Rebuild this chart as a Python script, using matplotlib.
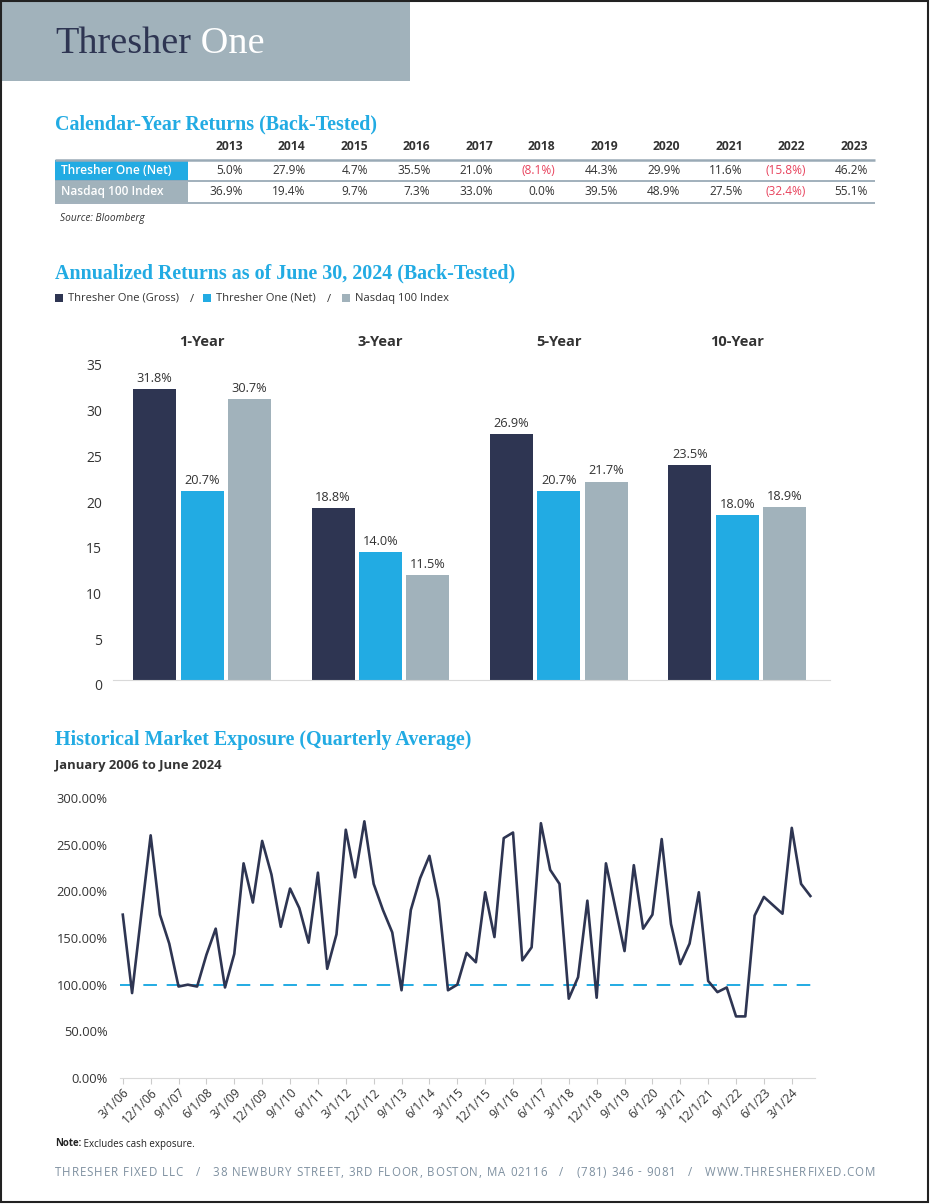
import matplotlib
matplotlib.use("Agg")
import matplotlib.pyplot as plt
from matplotlib.patches import Rectangle
from matplotlib.transforms import offset_copy
import numpy as np

plt.rcParams['font.family'] = ['Open Sans', 'DejaVu Sans']

NAVY = '#2e3552'
BLUE = '#22abe3'
GRAY = '#a1b2bb'
RED = '#e8435d'
TXT = '#333333'
SERIF = 'Liberation Serif'

# calendar-year table
years = [2013, 2014, 2015, 2016, 2017, 2018, 2019, 2020, 2021, 2022, 2023]
net_returns = [5.0, 27.9, 4.7, 35.5, 21.0, -8.1, 44.3, 29.9, 11.6, -15.8, 46.2]
ndx_returns = [36.9, 19.4, 9.7, 7.3, 33.0, 0.0, 39.5, 48.9, 27.5, -32.4, 55.1]

# annualized returns
periods = ['1-Year', '3-Year', '5-Year', '10-Year']
gross_ann = [31.8, 18.8, 26.9, 23.5]
net_ann = [20.7, 14.0, 20.7, 18.0]
ndx_ann = [30.7, 11.5, 21.7, 18.9]

# quarterly market exposure (%)
exposure = [175, 91, 176, 260, 175, 144, 98, 100, 98, 132,
            160, 97, 133, 230, 188, 254, 218, 162, 203, 182,
            145, 220, 117, 154, 266, 215, 275, 208, 180, 156,
            94, 180, 214, 238, 190, 94, 100, 134, 124, 199,
            151, 257, 263, 126, 140, 273, 223, 208, 85, 108,
            190, 86, 230, 183, 136, 228, 160, 175, 256, 165,
            122, 144, 199, 104, 92, 97, 66, 66, 174, 194,
            185, 176, 268, 208, 195]
date_labels = ['3/1/06', '12/1/06', '9/1/07', '6/1/08', '3/1/09', '12/1/09',
               '9/1/10', '6/1/11', '3/1/12', '12/1/12', '9/1/13', '6/1/14',
               '3/1/15', '12/1/15', '9/1/16', '6/1/17', '3/1/18', '12/1/18',
               '9/1/19', '6/1/20', '3/1/21', '12/1/21', '9/1/22', '6/1/23',
               '3/1/24']


def fmt_pct(v):
    if v < 0:
        return '({:.1f}%)'.format(-v)
    return '{:.1f}%'.format(v)


W, H = 930, 1204
fig = plt.figure(figsize=(W / 100, H / 100), dpi=100)
renderer = fig.canvas.get_renderer()

# page layer in pixel coordinates
bg = fig.add_axes([0, 0, 1, 1])
bg.set_xlim(0, W)
bg.set_ylim(H, 0)
bg.axis('off')


def tracked_text(x0, x1, y, s, **kw):
    # spread characters of s evenly between x0 and x1 (letter spacing)
    def width(txt):
        t = bg.text(0, 0, txt, **kw)
        w = t.get_window_extent(renderer).width
        t.remove()
        return w
    base = width('HH')
    widths = [width('H' + c + 'H') - base for c in s]
    track = (x1 - x0 - sum(widths)) / (len(s) - 1)
    x = x0
    for c, w in zip(s, widths):
        if c != ' ':
            bg.text(x, y, c, va='center', **kw)
        x += w + track


bg.add_patch(Rectangle((0, 0), 410, 81, color=GRAY, lw=0))
bg.add_patch(Rectangle((1, 1), W - 3, H - 3, fill=False, ec='#222222', lw=1.5))
t = bg.text(55, 44, 'Thresher', family=SERIF, fontsize=27.5, color=NAVY, va='center')
bg.annotate(' One', xycoords=t, xy=(1, 0), va='bottom', family=SERIF,
            fontsize=27.5, color='white')

# --- table ---
bg.text(55, 124, 'Calendar-Year Returns (Back-Tested)', family=SERIF,
        fontweight='bold', fontsize=14.4, color=BLUE, va='center')
col_right = [243 + 62.5 * i for i in range(len(years))]
for x, yr in zip(col_right, years):
    bg.text(x, 147, str(yr), ha='right', va='center', fontsize=8.7,
            fontweight='bold', color=TXT)
bg.add_patch(Rectangle((55, 160), 133, 20.5, color=BLUE, lw=0))
bg.add_patch(Rectangle((55, 181.5), 133, 20.5, color=GRAY, lw=0))
bg.text(61, 170, 'Thresher One (Net)', va='center', fontsize=8.6,
        color='white', fontweight='semibold')
bg.text(61, 191.5, 'Nasdaq 100 Index', va='center', fontsize=8.6,
        color='white', fontweight='semibold')
for yl, lw in [(159.5, 1.8), (181, 1.3), (202.5, 1.3)]:
    bg.plot([55, 875], [yl, yl], color='#9aaab6', lw=lw, solid_capstyle='butt')
for x, a, b in zip(col_right, net_returns, ndx_returns):
    bg.text(x, 170, fmt_pct(a), ha='right', va='center', fontsize=8.6,
            color=RED if a < 0 else TXT)
    bg.text(x, 191.5, fmt_pct(b), ha='right', va='center', fontsize=8.6,
            color=RED if b < 0 else TXT)
bg.text(60, 219, 'Source: Bloomberg', fontsize=7.3, style='italic',
        color=TXT, va='center')

# --- annualized returns ---
bg.text(55, 273, 'Annualized Returns as of June 30, 2024 (Back-Tested)',
        family=SERIF, fontweight='bold', fontsize=14.4, color=BLUE, va='center')
leg = [('Thresher One (Gross)', NAVY, 55), ('Thresher One (Net)', BLUE, 203),
       ('Nasdaq 100 Index', GRAY, 342)]
for lab, c, x in leg:
    bg.add_patch(Rectangle((x, 294), 8, 8, color=c, lw=0))
    bg.text(x + 13, 298, lab, fontsize=8, color=TXT, va='center')
bg.text(190, 299, '/', fontsize=8, color=TXT, va='center')
bg.text(327, 299, '/', fontsize=8, color=TXT, va='center')

ax = fig.add_axes([113 / W, 1 - 680 / H, (830 - 113) / W, 320 / H])
xg = np.arange(len(periods))
bw = 0.241
off = 0.266
for vals, c, d in [(gross_ann, NAVY, -off), (net_ann, BLUE, 0), (ndx_ann, GRAY, off)]:
    bars = ax.bar(xg + d, vals, width=bw, color=c, zorder=2)
    for b, v in zip(bars, vals):
        ax.text(b.get_x() + b.get_width() / 2, v + 0.45, '{:.1f}%'.format(v),
                ha='center', va='bottom', fontsize=9.2, color=TXT)
for x, p in zip(xg, periods):
    ax.text(x, 1.056, p, transform=ax.get_xaxis_transform(), ha='center',
            va='center', fontsize=10.5, fontweight='bold', color=TXT)
ax.set_xlim(-0.5, 3.52)
ax.set_ylim(0, 35)
ax.set_yticks(range(0, 36, 5))
ax.set_xticks([])
ax.tick_params(axis='y', length=0, labelsize=10, labelcolor=TXT, pad=8)
for lbl in ax.get_yticklabels():
    lbl.set_transform(offset_copy(lbl.get_transform(), fig=fig, y=-5, units='dots'))
for s in ['top', 'right', 'left']:
    ax.spines[s].set_visible(False)
ax.spines['bottom'].set_color('#d9d9d9')
ax.patch.set_alpha(0)

# --- market exposure ---
bg.text(55, 740, 'Historical Market Exposure (Quarterly Average)', family=SERIF,
        fontweight='bold', fontsize=14.4, color=BLUE, va='center')
bg.text(55, 766, 'January 2006 to June 2024', fontsize=9.4, fontweight='bold',
        color=TXT, va='center')

ax2 = fig.add_axes([120 / W, 1 - 1078 / H, (815 - 120) / W, 280 / H])
xq = np.arange(len(exposure))
ax2.axhline(100, color=BLUE, lw=1.4, dashes=(7, 5), zorder=1)
ax2.plot(xq, exposure, color=NAVY, lw=1.9, zorder=2)
ax2.set_xlim(-0.3, 74.5)
ax2.set_ylim(0, 300)
ax2.set_yticks(range(0, 301, 50))
ax2.set_yticklabels(['{:.2f}%'.format(v) for v in range(0, 301, 50)])
ax2.set_xticks(xq[::3][:len(date_labels)])
ax2.set_xticklabels(date_labels, rotation=45, ha='right', rotation_mode='anchor')
ax2.tick_params(axis='y', length=0, labelsize=9.3, labelcolor=TXT, pad=9)
ax2.tick_params(axis='x', length=4, color='#cccccc', labelsize=8.7,
                labelcolor=TXT, pad=2)
for s in ['top', 'right', 'left']:
    ax2.spines[s].set_visible(False)
ax2.spines['bottom'].set_color('#d9d9d9')
ax2.patch.set_alpha(0)

# --- notes and footer ---
n = bg.text(55, 1144, 'Note:', fontsize=7, fontweight='bold', color='#222222',
            va='center')
bg.annotate(' Excludes cash exposure.', xycoords=n, xy=(1, 0), va='bottom',
            fontsize=7, color='#222222')
footer = ('THRESHER FIXED LLC   /   38 NEWBURY STREET, 3RD FLOOR, BOSTON, MA 02116'
          '   /   (781) 346 - 9081   /   WWW.THRESHERFIXED.COM')
tracked_text(55, 875, 1172, footer, fontsize=8.3, color='#7e90a0')

fig.savefig('out.png', dpi=100)
